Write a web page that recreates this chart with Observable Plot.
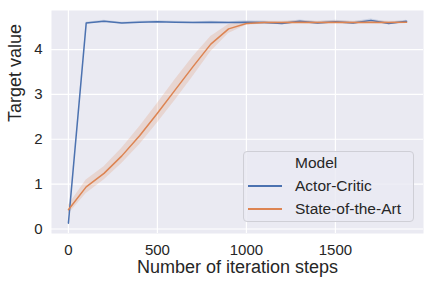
<!DOCTYPE html>
<html>
<head>
<meta charset="utf-8">
<script src="https://cdn.jsdelivr.net/npm/d3@7"></script>
<script src="https://cdn.jsdelivr.net/npm/@observablehq/plot@0.6"></script>
<style>
  html, body { margin: 0; padding: 0; background: white; }
  #wrap { position: relative; width: 432px; height: 288px; font-family: "Liberation Sans", Arial, sans-serif; color: #262626; }
  #legend { position: absolute; left: 243px; top: 151px; width: 171px; height: 71px; box-sizing: border-box;
            background: rgba(234,234,242,0.8); border: 1px solid #cfcfd6; border-radius: 4px; font-size: 15.5px; }
  #legend .row { position: absolute; left: 0; height: 20px; line-height: 20px; width: 100%; }
  #legend .sw { position: absolute; left: 4px; top: 9px; width: 34px; height: 1.5px; }
  #legend .lab { position: absolute; left: 51px; top: 0; white-space: nowrap; }
</style>
</head>
<body>
<div id="wrap"></div>
<script>
const models = ["Actor-Critic", "State-of-the-Art"];
const colors = ["#4C72B0", "#DD8452"];
const steps = [0,100,200,300,400,500,600,700,800,900,1000,1100,1200,1300,1400,1500,1600,1700,1800,1900];
const acMean = [0.13,4.59,4.63,4.59,4.61,4.62,4.61,4.60,4.61,4.60,4.61,4.60,4.58,4.63,4.59,4.62,4.59,4.65,4.58,4.63];
const acLow  = [0.11,4.57,4.61,4.57,4.59,4.60,4.59,4.58,4.59,4.58,4.58,4.57,4.55,4.60,4.56,4.59,4.56,4.62,4.55,4.61];
const acHigh = [0.15,4.61,4.65,4.61,4.63,4.64,4.63,4.62,4.63,4.62,4.64,4.63,4.61,4.66,4.62,4.65,4.62,4.68,4.61,4.65];
const saMean = [0.43,0.94,1.24,1.63,2.08,2.58,3.10,3.62,4.12,4.46,4.58,4.60,4.60,4.61,4.60,4.61,4.60,4.61,4.60,4.61];
const saLow  = [0.33,0.79,1.09,1.46,1.88,2.36,2.87,3.40,3.95,4.36,4.54,4.57,4.57,4.58,4.57,4.58,4.57,4.58,4.57,4.59];
const saHigh = [0.53,1.09,1.39,1.80,2.28,2.80,3.33,3.84,4.29,4.56,4.62,4.63,4.63,4.64,4.63,4.64,4.63,4.64,4.63,4.63];
const xTicks = [0, 500, 1000, 1500];
const yTicks = [0, 1, 2, 3, 4];
const xLabel = "Number of iteration steps";
const yLabel = "Target value";
const legendTitle = "Model";

const data = [];
steps.forEach((s, i) => {
  data.push({model: models[0], step: s, mean: acMean[i], low: acLow[i], high: acHigh[i]});
});
steps.forEach((s, i) => {
  data.push({model: models[1], step: s, mean: saMean[i], low: saLow[i], high: saHigh[i]});
});

const chart = Plot.plot({
  width: 432,
  height: 288,
  marginLeft: 51,
  marginRight: 9,
  marginTop: 10,
  marginBottom: 55,
  style: {fontFamily: "'Liberation Sans', Arial, sans-serif", fontSize: "15px", color: "#262626", background: "white", overflow: "visible"},
  x: {domain: [-95, 1995]},
  y: {domain: [-0.1, 4.87]},
  color: {domain: models, range: colors},
  marks: [
    Plot.frame({fill: "#EAEAF2", stroke: null}),
    Plot.gridX(xTicks, {stroke: "white", strokeOpacity: 1, strokeWidth: 1.2}),
    Plot.gridY(yTicks, {stroke: "white", strokeOpacity: 1, strokeWidth: 1.2}),
    Plot.areaY(data, {x: "step", y1: "low", y2: "high", fill: "model", fillOpacity: 0.2, z: "model"}),
    Plot.lineY(data, {x: "step", y: "mean", stroke: "model", strokeWidth: 1.5, z: "model"}),
    Plot.axisX({ticks: xTicks, tickFormat: d3.format("d"), tickSize: 0, tickPadding: 11, label: null, fontSize: 15}),
    Plot.axisY({ticks: yTicks, tickFormat: d3.format("d"), tickSize: 0, tickPadding: 9, label: null, fontSize: 15}),
    Plot.text([xLabel], {frameAnchor: "bottom", dy: 39, fontSize: 18, fill: "#262626"}),
    Plot.text([yLabel], {frameAnchor: "left", dx: -36, rotate: -90, fontSize: 18, fill: "#262626"})
  ]
});

const wrap = document.getElementById("wrap");
wrap.appendChild(chart);

const legend = document.createElement("div");
legend.id = "legend";
const title = document.createElement("div");
title.className = "row";
title.style.top = "1px";
title.innerHTML = `<span class="lab">${legendTitle}</span>`;
legend.appendChild(title);
models.forEach((m, i) => {
  const row = document.createElement("div");
  row.className = "row";
  row.style.top = (24 + i * 23) + "px";
  row.innerHTML = `<span class="sw" style="background:${colors[i]}"></span><span class="lab">${m}</span>`;
  legend.appendChild(row);
});
wrap.appendChild(legend);
</script>
</body>
</html>
